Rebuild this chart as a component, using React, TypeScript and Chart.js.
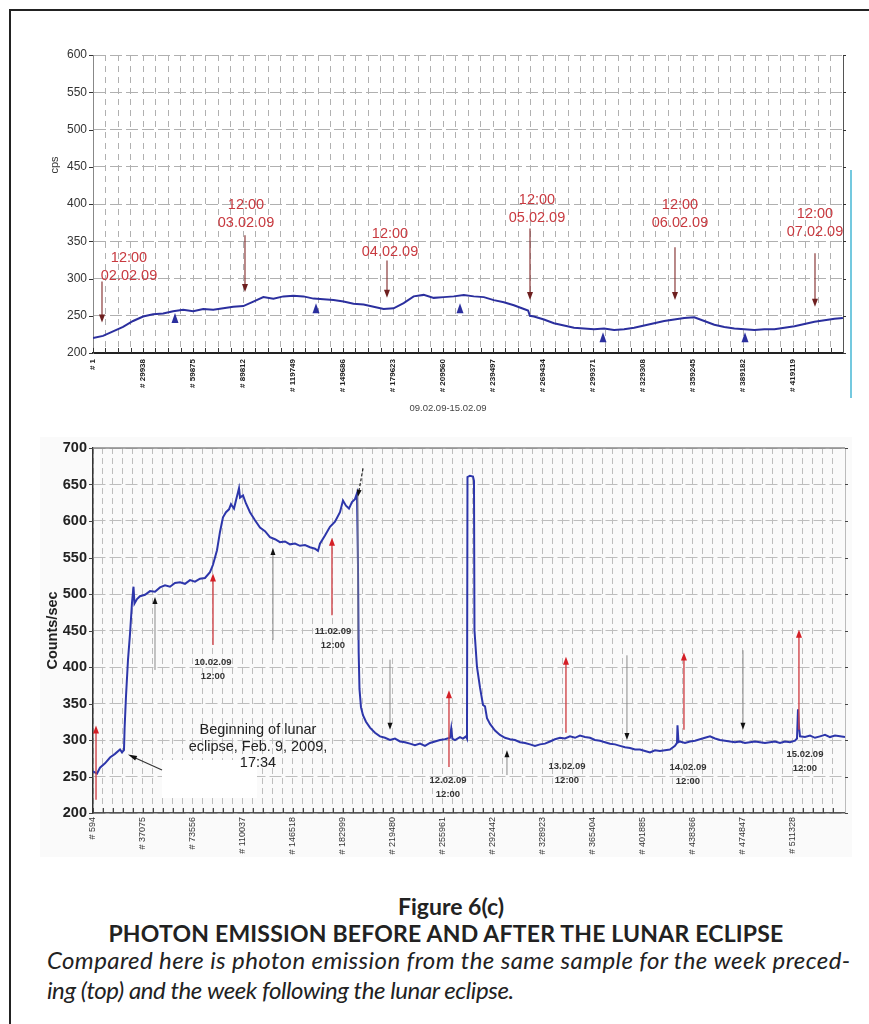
import React, { useEffect, useRef } from 'react';
import { Chart, registerables } from 'chart.js';

Chart.register(...registerables);

const FONT = '"Liberation Sans", Arial, Helvetica, sans-serif';

// ---------------- TOP CHART: week before the eclipse ----------------
const topSample = [
  1, 6000, 12000, 18000, 24000, 30000, 36000, 42000, 48000, 54000,
  60000, 66000, 72000, 78000, 84000, 90000, 96000, 102000, 108000, 114000,
  120000, 126000, 132000, 138000, 144000, 150000, 156000, 162000, 168000, 174000,
  180000, 186000, 192000, 198000, 204000, 210000, 216000, 222000, 228000, 234000,
  240000, 246000, 252000, 258000, 260500, 261600, 264000, 270000, 276000, 282000,
  288000, 294000, 300000, 306000, 312000, 318000, 324000, 330000, 336000, 342000,
  348000, 354000, 360000, 366000, 372000, 378000, 384000, 390000, 396000, 402000,
  408000, 414000, 420000, 426000, 432000, 438000, 444000, 449000,
];
const topCps = [
  220, 223, 229, 235, 243, 249, 252, 253, 256, 258,
  256, 259, 258, 260, 262, 263, 269, 275, 273, 276,
  277, 276, 273, 272, 271, 269, 266, 265, 262, 259,
  260, 267, 276, 278, 274, 275, 276, 278, 276, 275,
  271, 268, 264, 259, 257, 250, 249, 245, 240, 237,
  234, 233, 232, 233, 231, 232, 234, 237, 240, 243,
  245, 247, 248, 243, 238, 235, 233, 232, 231, 232,
  232, 234, 236, 239, 242, 244, 246, 247,
];
const topMajorTicks = [1, 29938, 59875, 89812, 119749, 149686, 179623, 209560, 239497, 269434, 299371, 329308, 359245, 389182, 419119];
const topXMin = 1;
const topXMax = 449056;
const topYMin = 200;
const topYMax = 600;
const topYStep = 50;
const topYTitle = 'cps';
const topXTitle = '09.02.09-15.02.09';

const topNoteSample = [21550, 91600, 177830, 265840, 351460, 432290];
const topNoteDate = ['02.02.09', '03.02.09', '04.02.09', '05.02.09', '06.02.09', '07.02.09'];
const topNoteLevel = [328, 398, 360, 406, 399, 387];
const topArrowSample = [5390, 91000, 176030, 261650, 348460, 432290];
const topArrowFrom = [296, 358, 324, 367, 342, 334];
const topArrowTo = [241, 282, 274, 271, 271, 262];
const topMarkSample = [49100, 133520, 219740, 305360, 390380];
const topMarkLevel = [247, 260, 260, 221, 221];

// ---------------- BOTTOM CHART: week after the eclipse ----------------
const bottomSample = [
  600, 3500, 5700, 9350, 13000, 16650, 20300, 21750, 23200, 23650,
  24670, 26130, 27590, 29050, 30150, 30870, 32700, 34880, 38530, 42180,
  45830, 49480, 53130, 56770, 60420, 64070, 67720, 71370, 75010, 78660,
  82310, 85960, 88150, 91070, 93250, 95440, 97630, 99820, 101280, 103470,
  105660, 107120, 107850, 110040, 112220, 115140, 118790, 122440, 126090, 129730,
  133380, 137030, 140680, 144330, 147970, 151620, 155270, 158920, 162570, 164760,
  166210, 169860, 173510, 177160, 180810, 183000, 185180, 187370, 189560, 191750,
  193210, 193940, 194450, 195030, 196130, 197590, 199780, 202690, 206340, 209990,
  213640, 217290, 220940, 224590, 228230, 231880, 235530, 239180, 242830, 246480,
  250120, 253770, 257420, 261070, 262000, 262800, 264720, 268370, 270560, 272750,
  273480, 273840, 275670, 277860, 278590, 278950, 280780, 282970, 285160, 286620,
  288080, 290270, 293920, 297560, 301210, 304860, 308510, 312160, 315810, 319450,
  323100, 326750, 330400, 334050, 337700, 341350, 344990, 348640, 352290, 355940,
  359590, 363240, 366880, 370530, 374180, 377830, 381480, 385130, 388780, 392420,
  396070, 399720, 403370, 407020, 410670, 414310, 417960, 421610, 425260, 426720,
  427080, 427810, 428910, 432560, 436210, 439860, 443500, 447150, 450800, 454450,
  458100, 461750, 465400, 469040, 472690, 476340, 479990, 483640, 487290, 490930,
  494580, 498230, 501880, 505530, 509180, 512820, 514280, 515010, 515740, 516470,
  520120, 523770, 527420, 531060, 534710, 538360, 542010, 545660, 549310,
];
const bottomCounts = [
  257, 254, 262, 268, 276, 281, 287, 283, 286, 316,
  360, 410, 445, 488, 510, 487, 493, 497, 499, 504,
  503, 509, 512, 510, 515, 516, 514, 519, 517, 521,
  522, 530, 540, 560, 585, 605, 612, 616, 623, 617,
  634, 645, 632, 635, 624, 612, 601, 591, 586, 578,
  575, 571, 572, 568, 569, 566, 567, 564, 562, 559,
  569, 580, 592, 599, 612, 628, 621, 617, 626, 630,
  638, 540, 420, 370, 345, 334, 325, 317, 310, 305,
  303, 300, 302, 298, 297, 295, 293, 295, 292, 296,
  298, 300, 301, 303, 316, 302, 300, 304, 302, 305,
  302, 660, 662, 661, 655, 450, 400, 372, 348, 346,
  330, 322, 313, 307, 303, 301, 300, 297, 296, 294,
  292, 294, 295, 298, 301, 303, 302, 305, 303, 306,
  304, 303, 300, 299, 297, 295, 294, 292, 290, 289,
  287, 287, 285, 283, 286, 285, 286, 287, 292, 296,
  320, 297, 298, 296, 298, 299, 301, 303, 305, 302,
  300, 299, 298, 297, 298, 296, 297, 298, 297, 296,
  297, 298, 296, 298, 297, 299, 302, 342, 318, 305,
  304, 306, 303, 305, 307, 304, 306, 305, 304,
];
const bottomMajorTicks = [594, 37075, 73556, 110037, 146518, 182999, 219480, 255961, 292442, 328923, 365404, 401885, 438366, 474847, 511328];
const bottomXMin = 594;
const bottomXMax = 549310;
const bottomYMin = 200;
const bottomYMax = 700;
const bottomYStep = 50;
const bottomYTitle = 'Counts/sec';

const bottomNoteSample = [88150, 175700, 259610, 346430, 434720, 520080];
const bottomNoteDate = ['10.02.09', '11.02.09', '12.02.09', '13.02.09', '14.02.09', '15.02.09'];
const bottomNoteTime = '12:00';
const bottomNoteLevel = [407, 449, 245, 264, 262, 280];
const redArrowSample = [2800, 88150, 174970, 260340, 345700, 431800, 515700];
const redArrowFrom = [218, 430, 471, 263, 310, 314, 314];
const redArrowTo = [320, 528, 577, 368, 414, 420, 451];
const greyArrowSample = [45830, 131900, 217300, 302650, 390200, 474850];
const greyArrowFrom = [396, 437, 410, 252, 416, 423];
const greyArrowTo = [496, 563, 314, 286, 300, 314];
const eclipseText = ['Beginning of lunar', 'eclipse, Feb. 9, 2009,', '17:34'];
const eclipseTextSample = 120980;
const eclipseTextLevel = [314, 290, 268.5];
const eclipseArrowFrom = { sample: 50940, value: 259 };
const eclipseArrowTo = { sample: 26130, value: 280 };
const maskSample = [50940, 120250];
const maskLevel = [272.6, 220.5];
const peakSample = [193900, 197600];
const peakLevel = [437, 636, 672];

function makeTicks(majors: number[], per: number, max: number): number[] {
  const out: number[] = [];
  for (let i = 0; i < majors.length; i++) {
    const a = majors[i];
    const b = i + 1 < majors.length ? majors[i + 1] : a + (a - majors[i - 1]);
    for (let j = 0; j < per; j++) {
      const v = j === 0 ? a : Math.round(a + ((b - a) * j) / per);
      if (v <= max) out.push(v);
    }
  }
  return out;
}

function arrow(ctx: CanvasRenderingContext2D, x1: number, y1: number, x2: number, y2: number,
  lineColor: string, headColor: string, lw: number, hl: number, hw: number, dash: number[] = []) {
  const ang = Math.atan2(y2 - y1, x2 - x1);
  const c = Math.cos(ang), s = Math.sin(ang);
  ctx.save();
  ctx.strokeStyle = lineColor;
  ctx.lineWidth = lw;
  ctx.setLineDash(dash);
  ctx.beginPath();
  ctx.moveTo(x1, y1);
  ctx.lineTo(x2 - c * hl * 0.7, y2 - s * hl * 0.7);
  ctx.stroke();
  ctx.setLineDash([]);
  const bx = x2 - c * hl, by = y2 - s * hl;
  ctx.fillStyle = headColor;
  ctx.beginPath();
  ctx.moveTo(x2, y2);
  ctx.lineTo(bx - s * hw / 2, by + c * hw / 2);
  ctx.lineTo(bx + s * hw / 2, by - c * hw / 2);
  ctx.closePath();
  ctx.fill();
  ctx.restore();
}

function frameTicks(chart: any, xColor: string, inward: boolean) {
  const { ctx, chartArea: a, scales } = chart;
  ctx.save();
  ctx.strokeStyle = xColor;
  ctx.lineWidth = 1;
  ctx.beginPath();
  scales.x.ticks.forEach((t: any) => {
    const x = Math.round(scales.x.getPixelForValue(t.value)) + 0.5;
    ctx.moveTo(x, a.bottom);
    ctx.lineTo(x, inward ? a.bottom - 5 : a.bottom + 4);
  });
  scales.y.ticks.forEach((t: any) => {
    const y = Math.round(scales.y.getPixelForValue(t.value)) + 0.5;
    ctx.moveTo(a.left - 4, y);
    ctx.lineTo(a.left, y);
    ctx.moveTo(a.right, y);
    ctx.lineTo(a.right + 3, y);
  });
  ctx.stroke();
  ctx.restore();
}

function yTitle(ctx: CanvasRenderingContext2D, text: string, x: number, y: number, font: string, color: string) {
  ctx.save();
  ctx.translate(x, y);
  ctx.rotate(-Math.PI / 2);
  ctx.font = font;
  ctx.fillStyle = color;
  ctx.textAlign = 'center';
  ctx.textBaseline = 'middle';
  ctx.fillText(text, 0, 0);
  ctx.restore();
}

const topDecor = {
  id: 'topDecor',
  beforeDatasetsDraw(chart: any) {
    const { ctx, chartArea: a } = chart;
    ctx.save();
    ctx.strokeStyle = '#555';
    ctx.lineWidth = 1;
    ctx.beginPath();
    ctx.moveTo(a.right + 0.5, a.top);
    ctx.lineTo(a.right + 0.5, a.bottom);
    ctx.stroke();
    ctx.restore();
    frameTicks(chart, '#333', true);
  },
  afterDatasetsDraw(chart: any) {
    const { ctx, chartArea: a, scales } = chart;
    const xs = scales.x, ys = scales.y;
    topArrowSample.forEach((s, i) => {
      const x = xs.getPixelForValue(s);
      arrow(ctx, x, ys.getPixelForValue(topArrowFrom[i]), x, ys.getPixelForValue(topArrowTo[i]), '#8a3a3a', '#6e1f1f', 1.2, 8, 6);
    });
    ctx.save();
    ctx.fillStyle = '#2b2f9e';
    topMarkSample.forEach((s, i) => {
      const x = xs.getPixelForValue(s), y = ys.getPixelForValue(topMarkLevel[i]);
      ctx.beginPath();
      ctx.moveTo(x, y - 5);
      ctx.lineTo(x + 3.5, y + 5);
      ctx.lineTo(x - 3.5, y + 5);
      ctx.closePath();
      ctx.fill();
    });
    ctx.restore();
    ctx.save();
    ctx.font = '14.5px ' + FONT;
    ctx.fillStyle = '#c8393f';
    ctx.textAlign = 'center';
    ctx.textBaseline = 'middle';
    topNoteSample.forEach((s, i) => {
      const x = xs.getPixelForValue(s), y = ys.getPixelForValue(topNoteLevel[i]);
      ctx.fillText('12:00', x, y);
      ctx.fillText(topNoteDate[i], x, y + 18);
    });
    ctx.font = '9.5px ' + FONT;
    ctx.fillStyle = '#444';
    ctx.fillText(topXTitle, (a.left + a.right) / 2 - 20, a.bottom + 55);
    ctx.restore();
    yTitle(ctx, topYTitle, 55, a.top + 110, '11px ' + FONT, '#333');
  },
};

const bottomDecor = {
  id: 'bottomDecor',
  beforeDatasetsDraw(chart: any) {
    const { ctx, chartArea: a, scales } = chart;
    const xs = scales.x, ys = scales.y;
    ctx.save();
    ctx.lineWidth = 1.5;
    ctx.strokeStyle = '#888';
    ctx.beginPath();
    ctx.moveTo(a.left, a.top);
    ctx.lineTo(a.right, a.top);
    ctx.stroke();
    ctx.lineWidth = 1;
    ctx.strokeStyle = '#bbb';
    ctx.beginPath();
    ctx.moveTo(a.right + 0.5, a.top);
    ctx.lineTo(a.right + 0.5, a.bottom);
    ctx.stroke();
    const x1 = xs.getPixelForValue(maskSample[0]), x2 = xs.getPixelForValue(maskSample[1]);
    const y1 = ys.getPixelForValue(maskLevel[0]), y2 = ys.getPixelForValue(maskLevel[1]);
    ctx.fillStyle = '#ffffff';
    ctx.fillRect(x1, y1, x2 - x1, y2 - y1);
    ctx.restore();
    frameTicks(chart, '#444', true);
  },
  afterDatasetsDraw(chart: any) {
    const { ctx, chartArea: a, scales } = chart;
    const xs = scales.x, ys = scales.y;
    redArrowSample.forEach((s, i) => {
      const x = xs.getPixelForValue(s);
      arrow(ctx, x, ys.getPixelForValue(redArrowFrom[i]), x, ys.getPixelForValue(redArrowTo[i]), '#d0454a', '#d41f26', 1.4, 8, 6);
    });
    greyArrowSample.forEach((s, i) => {
      const x = xs.getPixelForValue(s);
      arrow(ctx, x, ys.getPixelForValue(greyArrowFrom[i]), x, ys.getPixelForValue(greyArrowTo[i]), '#8a8a8a', '#111', 1, 7, 5);
    });
    ctx.save();
    ctx.strokeStyle = '#8a8a8a';
    ctx.lineWidth = 1;
    ctx.beginPath();
    const px = xs.getPixelForValue(peakSample[0]);
    ctx.moveTo(px, ys.getPixelForValue(peakLevel[0]));
    ctx.lineTo(px, ys.getPixelForValue(peakLevel[1]));
    ctx.stroke();
    ctx.restore();
    arrow(ctx, xs.getPixelForValue(peakSample[1]), ys.getPixelForValue(peakLevel[2]), px, ys.getPixelForValue(peakLevel[1]) + 2, '#222', '#111', 1.2, 7, 5, [3, 2]);
    arrow(ctx, xs.getPixelForValue(eclipseArrowFrom.sample), ys.getPixelForValue(eclipseArrowFrom.value),
      xs.getPixelForValue(eclipseArrowTo.sample), ys.getPixelForValue(eclipseArrowTo.value), '#333', '#111', 1.2, 9, 5);
    ctx.save();
    ctx.textAlign = 'center';
    ctx.textBaseline = 'middle';
    ctx.fillStyle = '#333';
    ctx.font = 'bold 9.5px ' + FONT;
    bottomNoteSample.forEach((s, i) => {
      const x = xs.getPixelForValue(s), y = ys.getPixelForValue(bottomNoteLevel[i]);
      ctx.fillText(bottomNoteDate[i], x, y);
      ctx.fillText(bottomNoteTime, x, y + 14);
    });
    ctx.font = '14.5px ' + FONT;
    ctx.fillStyle = '#222';
    eclipseText.forEach((t, i) => {
      ctx.fillText(t, xs.getPixelForValue(eclipseTextSample), ys.getPixelForValue(eclipseTextLevel[i]));
    });
    ctx.restore();
    yTitle(ctx, bottomYTitle, 52.5, (a.top + a.bottom) / 2, 'bold 14.5px ' + FONT, '#222');
  },
};

function TopChart() {
  const ref = useRef<HTMLCanvasElement>(null);
  useEffect(() => {
    const ticks = makeTicks(topMajorTicks, 4, topXMax);
    const chart = new Chart(ref.current as HTMLCanvasElement, {
      type: 'line',
      data: {
        datasets: [{
          data: topSample.map((s, i) => ({ x: s, y: topCps[i] })),
          borderColor: '#2b2f9e',
          borderWidth: 2,
          pointRadius: 0,
          tension: 0,
        }],
      },
      options: {
        animation: false,
        responsive: false,
        devicePixelRatio: 1,
        layout: { padding: { left: 0, right: 26, top: 15, bottom: 0 } },
        plugins: { legend: { display: false }, tooltip: { enabled: false } },
        scales: {
          x: {
            type: 'linear',
            min: topXMin,
            max: topXMax,
            afterBuildTicks: (s: any) => { s.ticks = ticks.map((v) => ({ value: v })); },
            afterFit: (s: any) => { s.height = 67; s.paddingLeft = 0; s.paddingRight = 0; },
            grid: { color: '#b0b0b0', lineWidth: 1, drawTicks: false, borderDash: [6, 5] },
            border: { display: true, color: '#222', width: 2, dash: [6, 5] },
            ticks: {
              autoSkip: false, maxRotation: 90, minRotation: 90, padding: 6,
              font: { family: FONT, size: 8, weight: 'bold' }, color: '#222',
              callback: (v: any) => (topMajorTicks.includes(v) ? '# ' + v : ''),
            },
          },
          y: {
            min: topYMin,
            max: topYMax,
            afterFit: (s: any) => { s.width = 93; s.paddingTop = 0; s.paddingBottom = 0; },
            grid: { color: '#b0b0b0', lineWidth: 1, drawTicks: false, borderDash: [12, 4] },
            border: { display: true, color: '#888', width: 1, dash: [12, 4] },
            ticks: { stepSize: topYStep, padding: 6, font: { family: FONT, size: 12 }, color: '#333' },
          },
        },
      } as any,
      plugins: [topDecor],
    });
    return () => chart.destroy();
  }, []);
  return <canvas ref={ref} width={869} height={380} style={{ position: 'absolute', left: 0, top: 40, width: 869, height: 380 }} />;
}

function BottomChart() {
  const ref = useRef<HTMLCanvasElement>(null);
  useEffect(() => {
    const ticks = makeTicks(bottomMajorTicks, 5, bottomXMax);
    const chart = new Chart(ref.current as HTMLCanvasElement, {
      type: 'line',
      data: {
        datasets: [{
          data: bottomSample.map((s, i) => ({ x: s, y: bottomCounts[i] })),
          borderColor: '#2d36aa',
          borderWidth: 2,
          pointRadius: 0,
          tension: 0,
        }],
      },
      options: {
        animation: false,
        responsive: false,
        devicePixelRatio: 1,
        layout: { padding: { left: 0, right: 24, top: 18, bottom: 0 } },
        plugins: { legend: { display: false }, tooltip: { enabled: false } },
        scales: {
          x: {
            type: 'linear',
            min: bottomXMin,
            max: bottomXMax,
            afterBuildTicks: (s: any) => { s.ticks = ticks.map((v) => ({ value: v })); },
            afterFit: (s: any) => { s.height = 47; s.paddingLeft = 0; s.paddingRight = 0; },
            grid: { color: '#bdbdbd', lineWidth: 1, drawTicks: false, borderDash: [6, 4] },
            border: { display: true, color: '#555', width: 1.5, dash: [6, 4] },
            ticks: {
              autoSkip: false, maxRotation: 90, minRotation: 90, padding: 4,
              font: { family: FONT, size: 9 }, color: '#333',
              callback: (v: any) => (bottomMajorTicks.includes(v) ? '# ' + v : ''),
            },
          },
          y: {
            min: bottomYMin,
            max: bottomYMax,
            afterFit: (s: any) => { s.width = 93; s.paddingTop = 0; s.paddingBottom = 0; },
            grid: { color: '#bdbdbd', lineWidth: 1, drawTicks: false, borderDash: [12, 4] },
            border: { display: true, color: '#333', width: 1.5, dash: [12, 4] },
            ticks: { stepSize: bottomYStep, padding: 6, font: { family: FONT, size: 14.5, weight: 'bold' }, color: '#222' },
          },
        },
      } as any,
      plugins: [bottomDecor],
    });
    return () => chart.destroy();
  }, []);
  return <canvas ref={ref} width={869} height={430} style={{ position: 'absolute', left: 0, top: 430, width: 869, height: 430 }} />;
}

export default function App() {
  useEffect(() => {
    document.body.style.margin = '0';
  }, []);
  const cap = '"Lato", "Open Sans", sans-serif';
  return (
    <div style={{ position: 'relative', width: 869, height: 1024, background: '#fff', overflow: 'hidden' }}>
      <div style={{ position: 'absolute', left: 10, top: 9, width: 859, height: 2, background: '#222' }} />
      <div style={{ position: 'absolute', left: 9, top: 9, width: 2, height: 1015, background: '#222' }} />
      <div style={{ position: 'absolute', left: 40, top: 437, width: 812, height: 420, background: '#fafafa' }} />
      <div style={{ position: 'absolute', left: 850, top: 170, width: 2, height: 228, background: '#74c9df' }} />
      <TopChart />
      <BottomChart />
      <div style={{ position: 'absolute', left: 0, width: 902, top: 892, textAlign: 'center', fontFamily: cap, fontWeight: 'bold', fontSize: 23, lineHeight: '28px', color: '#222' }}>Figure 6(c)</div>
      <div style={{ position: 'absolute', left: 0, width: 892, top: 919, textAlign: 'center', fontFamily: cap, fontWeight: 'bold', fontSize: 23, lineHeight: '28px', letterSpacing: '0.2px', color: '#222', whiteSpace: 'nowrap' }}>PHOTON EMISSION BEFORE AND AFTER THE LUNAR ECLIPSE</div>
      <div style={{ position: 'absolute', left: 47, top: 946, fontFamily: cap, fontStyle: 'italic', fontSize: 24, lineHeight: '28px', letterSpacing: '0.4px', color: '#222', whiteSpace: 'nowrap' }}>Compared here is photon emission from the same sample for the week preced-</div>
      <div style={{ position: 'absolute', left: 47, top: 976, fontFamily: cap, fontStyle: 'italic', fontSize: 24, lineHeight: '28px', letterSpacing: '-0.4px', color: '#222', whiteSpace: 'nowrap' }}>ing (top) and the week following the lunar eclipse.</div>
    </div>
  );
}
